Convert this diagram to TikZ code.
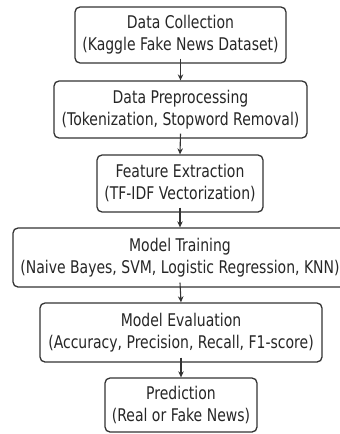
\documentclass[tikz,border=0pt]{standalone}
\usepackage{fontspec}
\setmainfont{DejaVu Sans}[FakeStretch=0.8]
\usetikzlibrary{arrows.meta}
\begin{document}
\begin{tikzpicture}[x=1pt,y=-1pt,
  box/.style={draw=black!80, line width=1.3pt, rounded corners=5pt, align=center,
    font=\fontsize{17.5}{22}\selectfont, inner sep=0pt, text=black!85},
  arr/.style={draw=black!80, line width=1.1pt, -{Stealth[length=6pt,width=5.5pt]}}]
\useasboundingbox (0,0) rectangle (340,434);
\clip (0,0) rectangle (340,434);
\fill[white] (0,0) rectangle (340,434);
\node[box, minimum width=211pt, minimum height=56pt] (n1) at (180.5,35) {Data Collection\\(Kaggle Fake News Dataset)};
\node[box, minimum width=253pt, minimum height=57pt] (n2) at (180.5,109.5) {Data Preprocessing\\(Tokenization, Stopword Removal)};
\node[box, minimum width=166pt, minimum height=57pt] (n3) at (180,183.5) {Feature Extraction\\(TF-IDF Vectorization)};
\node[box, minimum width=334pt, minimum height=59pt] (n4) at (180,257.5) {Model Training\\(Naive Bayes, SVM, Logistic Regression, KNN)};
\node[box, minimum width=282pt, minimum height=59pt] (n5) at (181,332.5) {Model Evaluation\\(Accuracy, Precision, Recall, F1-score)};
\node[box, minimum width=152pt, minimum height=54pt] (n6) at (181,405) {Prediction\\(Real or Fake News)};
\draw[arr] ([yshift=5pt]n1.south) -- (n2.north);
\draw[arr] ([yshift=5pt]n2.south) -- (n3.north);
\draw[arr] ([yshift=5pt]n3.south) -- (n4.north);
\draw[arr] ([yshift=5pt]n4.south) -- (n5.north);
\draw[arr] ([yshift=5pt]n5.south) -- (n6.north);
\end{tikzpicture}
\end{document}
